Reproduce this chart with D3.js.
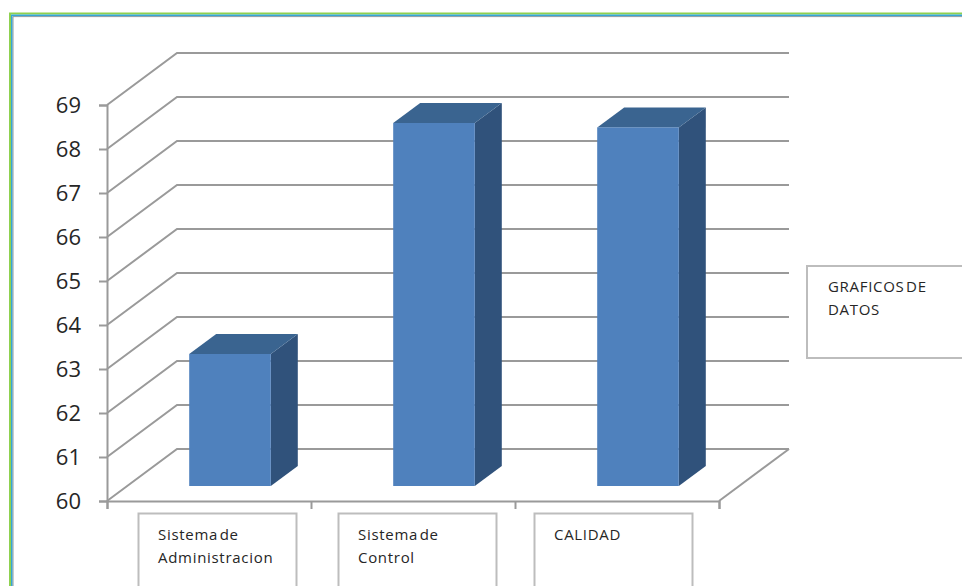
<!DOCTYPE html>
<html>
<head>
<meta charset="utf-8">
<script src="https://cdn.jsdelivr.net/npm/d3@7"></script>
<style>
    html, body { margin: 0; padding: 0; background: #fff; overflow: hidden; }
    svg { display: block; }
    text { font-family: "Open Sans", sans-serif; fill: #262626; }
</style>
</head>
<body>
<script>
// chart data
const categories = ['Sistema de Administracion', 'Sistema de Control', 'CALIDAD'];
const values = [63.0, 68.25, 68.15];
const yTicks = [60, 61, 62, 63, 64, 65, 66, 67, 68, 69];
const legendLabel = ['GRAFICOS DE', 'DATOS'];
const categoryLines = [['Sistema de', 'Administracion'], ['Sistema de', 'Control'], ['CALIDAD']];

const width = 962;
const height = 586;

// oblique offset of the back wall and of the bars themselves
const wall = { dx: 70, dy: -52 };
const depth = { dx: 27, dy: -20 };
const GRID = '#9a9a9a';
const BOX = '#bdbdbd';

const svg = d3.select('body').append('svg')
    .attr('width', width)
    .attr('height', height);

// frame of the pasted picture, three nested strokes
[
    { x: 10, y: 13.5, color: '#8fd14f', w: 2 },
    { x: 11.8, y: 15.3, color: '#35a7d6', w: 1.6 },
    { x: 13, y: 16.6, color: '#8a9aa0', w: 1 }
].forEach(f => {
    svg.append('path')
        .attr('d', `M${f.x},${height}V${f.y}H${width}`)
        .attr('fill', 'none')
        .attr('stroke', f.color)
        .attr('stroke-width', f.w);
});

const y = d3.scaleLinear().domain([60, 69]).range([501, 105]);
const x = d3.scaleBand().domain(categories).range([107, 719]).paddingInner(0.6).paddingOuter(0.3);
const xEdges = d3.scaleLinear().domain([0, categories.length]).range([107, 719]);

// gridlines: front edge, up the side wall, along the back wall
const line = d3.line();
svg.append('g').selectAll('path')
    .data(yTicks)
    .enter().append('path')
    .attr('d', d => line([
        [107, y(d)],
        [107 + wall.dx, y(d) + wall.dy],
        [719 + wall.dx, y(d) + wall.dy]
    ]))
    .attr('fill', 'none')
    .attr('stroke', GRID)
    .attr('stroke-width', 2);

// right edge of the floor
svg.append('path')
    .attr('d', line([[719, y(60)], [719 + wall.dx, y(60) + wall.dy]]))
    .attr('fill', 'none')
    .attr('stroke', GRID)
    .attr('stroke-width', 2);

// axes
const yAxis = svg.append('g')
    .attr('transform', 'translate(107,0)')
    .call(d3.axisLeft(y).tickValues(yTicks).tickFormat(d3.format('d')).tickSize(8).tickPadding(18));
const xAxis = svg.append('g')
    .attr('transform', `translate(0,${y(60)})`)
    .call(d3.axisBottom(xEdges).tickValues(d3.range(categories.length + 1)).tickFormat('').tickSize(8));
[yAxis, xAxis].forEach(a => {
    a.selectAll('path, line').attr('stroke', GRID).attr('stroke-width', 2);
});
yAxis.selectAll('text')
    .attr('dy', '0.36em')
    .style('font-size', '22px')
    .style('font-family', '"Open Sans", sans-serif')
    .attr('fill', '#262626');

// bars sit about half way between the front edge and the back wall
const shiftX = 21;
const shiftY = -15;
const bars = svg.append('g').selectAll('g')
    .data(categories.map((name, i) => ({ name, value: values[i] })))
    .enter().append('g')
    .attr('transform', `translate(${shiftX},${shiftY})`);

bars.append('path')  // side face
    .attr('d', d => {
        const r = x(d.name) + x.bandwidth();
        return line([
            [r, y(d.value)],
            [r + depth.dx, y(d.value) + depth.dy],
            [r + depth.dx, y(60) + depth.dy],
            [r, y(60)]
        ]) + 'Z';
    })
    .attr('fill', '#30527b');

bars.append('path')  // top face
    .attr('d', d => {
        const l = x(d.name);
        const r = l + x.bandwidth();
        return line([
            [l, y(d.value)],
            [l + depth.dx, y(d.value) + depth.dy],
            [r + depth.dx, y(d.value) + depth.dy],
            [r, y(d.value)]
        ]) + 'Z';
    })
    .attr('fill', '#3a6490');

bars.append('rect')  // front face
    .attr('x', d => x(d.name))
    .attr('y', d => y(d.value))
    .attr('width', x.bandwidth())
    .attr('height', d => y(60) - y(d.value))
    .attr('fill', '#4f81bd');

// hand drawn label boxes under the axis and at the right
const boxes = [
    { x: 138.5, y: 513.5, w: 158, h: 90, tx: 158, lines: categoryLines[0] },
    { x: 338.5, y: 513.5, w: 158, h: 90, tx: 358, lines: categoryLines[1] },
    { x: 534.5, y: 513.5, w: 158, h: 90, tx: 554, lines: categoryLines[2] },
    { x: 807, y: 266, w: 180, h: 92, tx: 828, lines: legendLabel }
];

const labels = svg.append('g').selectAll('g')
    .data(boxes)
    .enter().append('g');

labels.append('rect')
    .attr('x', d => d.x)
    .attr('y', d => d.y)
    .attr('width', d => d.w)
    .attr('height', d => d.h)
    .attr('fill', '#fff')
    .attr('stroke', BOX)
    .attr('stroke-width', 2);

labels.selectAll('text')
    .data(d => d.lines.map((t, i) => ({ t, i, box: d })))
    .enter().append('text')
    .attr('x', d => d.box.tx)
    .attr('y', d => d.box.y + 26 + d.i * 23)
    .style('font-size', '15px')
    .style('letter-spacing', '0.7px')
    .style('word-spacing', '-3px')
    .text(d => d.t);
</script>
</body>
</html>
